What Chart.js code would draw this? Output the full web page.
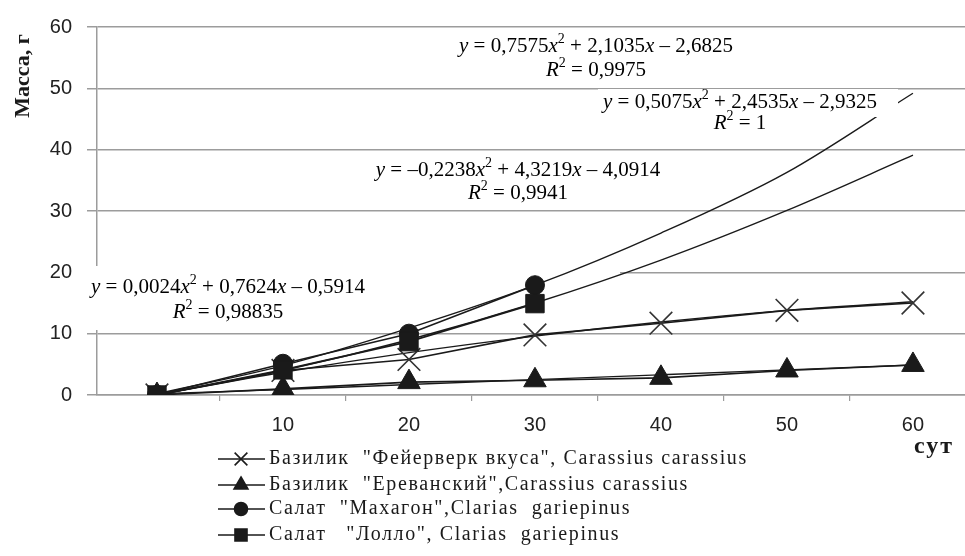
<!DOCTYPE html>
<html>
<head>
<meta charset="utf-8">
<script src="https://cdn.jsdelivr.net/npm/chart.js@4.4.1/dist/chart.umd.min.js"></script>
<style>
html, body { margin: 0; padding: 0; background: #fff; }
#wrap { width: 965px; height: 556px; }
</style>
</head>
<body>
<div id="wrap"><canvas id="grafico"></canvas></div>
<script>
const dias = [0, 10, 20, 30, 40, 50, 60]
const rotulosX = [10, 20, 30, 40, 50, 60]
const rotulosY = [0, 10, 20, 30, 40, 50, 60]

const nomes = [
    'Базилик  "Фейерверк вкуса", Carassius carassius',
    'Базилик  "Ереванский",Carassius carassius',
    'Салат  "Махагон",Clarias  gariepinus',
    'Салат   "Лолло", Clarias  gariepinus'
]

const fejerverk = [0, 4, 5.8, 9.8, 11.7, 13.8, 15]
const erevanskij = [0, 1, 2.1, 2.4, 2.8, 4, 4.9]
const mahagon = [0, 5.1, 10, 17.9]
const lollo = [0, 4.1, 8.7, 14.9]

const tendFejerverk = [0, 3.7, 6.9, 9.6, 11.9, 13.8, 15.2]
const tendErevanskij = [0.2, 0.9, 1.7, 2.5, 3.3, 4.1, 4.9]
const tendMahagon = [0.2, 4.8, 10.9, 17.9, 26.4, 36.3, 49.2]
const tendLollo = [0, 4, 9, 15, 22, 30.1, 39.1]

const equacoes = [
    ['y = 0,7575x^2 + 2,1035x – 2,6825', 'R^2 = 0,9975'],
    ['y = 0,5075x^2 + 2,4535x – 2,9325', 'R^2 = 1'],
    ['y = –0,2238x^2 + 4,3219x – 4,0914', 'R^2 = 0,9941'],
    ['y = 0,0024x^2 + 0,7624x – 0,5914', 'R^2 = 0,98835']
]

const cinza = '#9c9c9c'
const tinta = '#1a1a1a'
const estilos = [
    { ponto: 'crossRot', raio: 16, legRaio: 9 },
    { ponto: 'triangle', raio: 13, legRaio: 8 },
    { ponto: 'circle', raio: 9.5, legRaio: 6.5 },
    { ponto: 'rect', raio: 13, legRaio: 8.5 }
]

function pontos(valores) {
    return valores.map((v, i) => ({ x: dias[i], y: v }))
}

function serie(nome, valores, k) {
    return {
        label: nome,
        data: pontos(valores),
        borderColor: tinta,
        backgroundColor: tinta,
        borderWidth: 1.6,
        pointStyle: estilos[k].ponto,
        pointRadius: estilos[k].raio,
        pointBorderWidth: k === 0 ? 1.6 : 1,
        pointBorderColor: k === 0 ? '#333' : tinta,
        pointBackgroundColor: tinta
    }
}

function tendencia(valores) {
    return {
        label: '',
        data: pontos(valores),
        borderColor: tinta,
        borderWidth: 1.4,
        pointRadius: 0,
        cubicInterpolationMode: 'monotone'
    }
}

function desenhaFormula(ctx, texto, cx, cy) {
    const pecas = []
    for (let i = 0; i < texto.length; i++) {
        const c = texto[i]
        if (c === '^') {
            pecas.push({ t: texto[i + 1], sup: true })
            i++
            continue
        }
        pecas.push({ t: c, it: c === 'x' || c === 'y' || c === 'R' })
    }
    const fonte = p => (p.it ? 'italic ' : '') + (p.sup ? '14px' : '21px') + ' "Liberation Serif"'
    let largura = 0
    pecas.forEach(p => {
        ctx.font = fonte(p)
        p.w = ctx.measureText(p.t).width
        largura += p.w
    })
    let x = cx - largura / 2
    ctx.textBaseline = 'middle'
    ctx.textAlign = 'left'
    ctx.fillStyle = '#000'
    pecas.forEach(p => {
        ctx.font = fonte(p)
        ctx.fillText(p.t, x, p.sup ? cy - 7 : cy)
        x += p.w
    })
}

const posEquacoes = [
    { x: 596, y: 46, y2: 70 },
    { x: 740, y: 102, y2: 123 },
    { x: 518, y: 170, y2: 193 },
    { x: 228, y: 287, y2: 312 }
]

const extras = {
    id: 'extras',
    beforeDatasetsDraw(chart) {
        const ctx = chart.ctx
        ctx.save()
        ctx.fillStyle = '#fff'
        ctx.fillRect(85, 266, 535, 64)
        ctx.restore()
    },
    afterDatasetsDraw(chart) {
        const ctx = chart.ctx
        ctx.save()
        ctx.fillStyle = '#fff'
        ctx.fillRect(598, 89, 300, 28)
        equacoes.forEach((eq, i) => {
            const p = posEquacoes[i]
            desenhaFormula(ctx, eq[0], p.x, p.y)
            desenhaFormula(ctx, eq[1], p.x, p.y2)
        })
        ctx.restore()
    },
    afterDraw(chart) {
        const ctx = chart.ctx
        ctx.save()
        ctx.fillStyle = tinta
        ctx.translate(23, 76)
        ctx.rotate(-Math.PI / 2)
        ctx.font = 'bold 22px "Liberation Serif"'
        ctx.textAlign = 'center'
        ctx.textBaseline = 'middle'
        ctx.fillText('Масса, г', 0, 0)
        ctx.restore()

        ctx.save()
        ctx.fillStyle = tinta
        ctx.font = 'bold 24px "Liberation Serif"'
        ctx.letterSpacing = '2px'
        ctx.textAlign = 'center'
        ctx.textBaseline = 'middle'
        ctx.fillText('сут', 934, 447)
        ctx.restore()

        const linhas = [459, 485, 509, 535]
        nomes.forEach((nome, k) => {
            const y = linhas[k]
            ctx.save()
            ctx.strokeStyle = tinta
            ctx.lineWidth = 1.6
            ctx.beginPath()
            ctx.moveTo(218, y)
            ctx.lineTo(265, y)
            ctx.stroke()
            ctx.fillStyle = tinta
            Chart.helpers.drawPoint(ctx, {
                pointStyle: estilos[k].ponto,
                radius: estilos[k].legRaio,
                rotation: 0,
                borderWidth: 1.4
            }, 241, y)
            ctx.fillStyle = tinta
            ctx.font = '20px "Liberation Serif"'
            ctx.letterSpacing = '1.6px'
            ctx.textAlign = 'left'
            ctx.textBaseline = 'middle'
            ctx.fillText(nome, 269, y)
            ctx.restore()
        })
    }
}

const fonteEixo = { family: '"Liberation Sans"', size: 20 }

new Chart(document.getElementById('grafico'), {
    type: 'line',
    data: {
        datasets: [
            serie(nomes[3], lollo, 3),
            serie(nomes[2], mahagon, 2),
            serie(nomes[1], erevanskij, 1),
            serie(nomes[0], fejerverk, 0),
            tendencia(tendLollo),
            tendencia(tendMahagon),
            tendencia(tendErevanskij),
            tendencia(tendFejerverk)
        ]
    },
    options: {
        responsive: true,
        maintainAspectRatio: false,
        devicePixelRatio: 1,
        animation: false,
        layout: { autoPadding: false, padding: { top: 25, right: 0, bottom: 119, left: 0 } },
        plugins: {
            legend: { display: false },
            tooltip: { enabled: false }
        },
        scales: {
            x: {
                type: 'linear',
                min: -4.76,
                max: 64.13,
                afterBuildTicks: eixo => {
                    const lista = []
                    rotulosX.forEach(v => {
                        lista.push({ value: v - 5 })
                        lista.push({ value: v })
                    })
                    eixo.ticks = lista
                },
                afterFit: eixo => {
                    eixo.height = 42
                    eixo.paddingLeft = 0
                    eixo.paddingRight = 0
                },
                ticks: {
                    autoSkip: false,
                    maxRotation: 0,
                    padding: 12,
                    color: '#222',
                    font: fonteEixo,
                    callback: v => (v % 10 === 0 ? v : '')
                },
                grid: {
                    drawOnChartArea: false,
                    tickLength: 6,
                    lineWidth: 1.2,
                    color: ctx => (ctx.tick && ctx.tick.value % 10 === 0 ? 'rgba(0,0,0,0)' : cinza)
                },
                border: { color: cinza, width: 1.5 }
            },
            y: {
                min: 0,
                max: 60,
                afterBuildTicks: eixo => {
                    eixo.ticks = rotulosY.map(v => ({ value: v }))
                },
                afterFit: eixo => { eixo.width = 97 },
                ticks: { padding: 15, color: '#222', font: fonteEixo },
                grid: { color: cinza, lineWidth: 1.5, tickLength: 10 },
                border: { color: cinza, width: 1.5 }
            }
        }
    },
    plugins: [extras]
})
</script>
</body>
</html>
